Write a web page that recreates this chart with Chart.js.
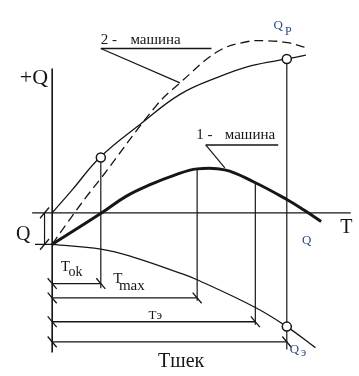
<!DOCTYPE html>
<html>
<head>
<meta charset="utf-8">
<script src="https://cdn.jsdelivr.net/npm/chart.js@4.4.1/dist/chart.umd.min.js"></script>
<style>
  body { margin: 0; background: #fff; }
  #wrap { width: 359px; height: 376px; position: relative; }
</style>
</head>
<body>
<div id="wrap"><canvas id="chart"></canvas></div>
<script>
// ============ DATA (T along x, Q along y) ============
const q0 = -33;                 // initial Q at T = 0

// 1 - машина (thick curve)
const curve1T = [0, 52, 77, 104, 127, 152, 181, 212, 246, 264, 282];
const curve1Q = [q0, 0, 17, 30, 39, 46, 45, 32, 14, 3, -9];

// 2 - машина, solid curve (starts at origin)
const curve2T = [0, 21, 50, 94, 134, 174, 209, 246, 266];
const curve2Q = [0, 24, 58, 94, 124, 142, 154, 161, 165];

// 2 - машина, dashed curve (starts at Q0)
const dashT = [0, 14, 36, 51, 109, 134, 174, 204, 226, 247, 266];
const dashQ = [q0, -13, 17, 36, 112, 136, 169, 179, 180, 178, 173];

// Qэ curve
const qeT = [0, 51, 84, 134, 152, 213, 246, 276];
const qeQ = [q0, -38, -46, -63, -70, -99, -119, -141];

// time marks: Tok, Tmax, Tэ, Тшек
const markT = [51, 152, 213, 246];
const markTopQ = [58, 46, 32, 161];      // where the drop lines start
const bracketQ = [-74, -89, -114, -135]; // dimension lines

const ink = "#161616";
const navy = "#2b4a80";

function pts(xs, ys) {
    return xs.map((x, i) => ({ x: x, y: ys[i] }));
}

function seg(a, b, extra) {
    return Object.assign({
        data: [a, b],
        showLine: true,
        pointRadius: 0,
        borderColor: ink,
        borderWidth: 1.2,
        tension: 0
    }, extra || {});
}

// ============ DATASETS ============
const datasets = [];

// circles on top
datasets.push({
    data: [
        { x: markT[0], y: markTopQ[0] },
        { x: markT[3], y: markTopQ[3] },
        { x: markT[3], y: qeQ[6] }
    ],
    pointStyle: "circle",
    pointRadius: 4.5,
    pointBackgroundColor: "#fff",
    pointBorderColor: ink,
    pointBorderWidth: 1.5,
    showLine: false
});

// slash ticks on dimension lines
const slashPts = [];
bracketQ.forEach((q, i) => {
    slashPts.push({ x: 0, y: q });
    slashPts.push({ x: markT[i], y: q });
});
datasets.push({
    data: slashPts,
    pointStyle: "line",
    pointRadius: 7,
    rotation: 50,
    borderColor: ink,
    borderWidth: 1.3,
    showLine: false
});
datasets.push({
    data: [{ x: -8, y: 0 }, { x: -8, y: q0 }],
    pointStyle: "line",
    pointRadius: 7,
    rotation: -50,
    borderColor: ink,
    borderWidth: 1.3,
    showLine: false
});

// curves
datasets.push({ data: pts(curve1T, curve1Q), showLine: true, pointRadius: 0, borderColor: ink, borderWidth: 3, tension: 0.4 });
datasets.push({ data: pts(curve2T, curve2Q), showLine: true, pointRadius: 0, borderColor: ink, borderWidth: 1.3, tension: 0.4 });
datasets.push({ data: pts(dashT, dashQ), showLine: true, pointRadius: 0, borderColor: ink, borderWidth: 1.3, borderDash: [9, 5], tension: 0.4 });
datasets.push({ data: pts(qeT, qeQ), showLine: true, pointRadius: 0, borderColor: ink, borderWidth: 1.3, tension: 0.4 });

// axes
datasets.push(seg({ x: 0, y: 151 }, { x: 0, y: -146 }, { borderWidth: 1.6 }));
datasets.push(seg({ x: -21, y: 0 }, { x: 320, y: 0 }, { borderWidth: 1.4 }));
datasets.push(seg({ x: -18, y: q0 }, { x: 0, y: q0 }));
datasets.push(seg({ x: -8, y: 0 }, { x: -8, y: q0 }));

// drop lines and dimension lines
const dropEnd = [-79, -92, -117, -143];
markT.forEach((t, i) => {
    datasets.push(seg({ x: t, y: markTopQ[i] }, { x: t, y: dropEnd[i] }));
    datasets.push(seg({ x: 0, y: bracketQ[i] }, { x: t, y: bracketQ[i] }, { borderWidth: 1.4 }));
});

// label leaders
datasets.push(seg({ x: 51, y: 172 }, { x: 167, y: 172 }, { borderWidth: 1.4 }));
datasets.push(seg({ x: 51, y: 172 }, { x: 134, y: 136 }));
datasets.push(seg({ x: 161, y: 71 }, { x: 237, y: 71 }, { borderWidth: 1.4 }));
datasets.push(seg({ x: 161, y: 71 }, { x: 181, y: 47 }));

// ============ TEXT ============
const serif = "'Liberation Serif', 'DejaVu Serif', serif";
const texts = [
    { text: "+Q", t: -34, q: 135, size: 22 },
    { text: "2 -", t: 51, q: 177, size: 15 },
    { text: "машина", t: 82, q: 177, size: 15 },
    { text: "1 -", t: 151, q: 77, size: 15 },
    { text: "машина", t: 181, q: 77, size: 15 },
    { text: "Q", t: -38, q: -28, size: 20 },
    { text: "T", t: 302, q: -21, size: 20 },
    { text: "Q", t: 262, q: -33, size: 13, color: navy },
    { text: "Q", t: 232, q: 192, size: 13, color: navy },
    { text: "P", t: 244, q: 186, size: 12, color: navy },
    { text: "Q", t: 249, q: -147, size: 13, color: navy },
    { text: "э", t: 261, q: -150, size: 12, color: navy },
    { text: "T", t: 9, q: -61, size: 15 },
    { text: "ok", t: 17, q: -66, size: 14 },
    { text: "T", t: 64, q: -73, size: 15 },
    { text: "max", t: 70, q: -81, size: 15 },
    { text: "Tэ", t: 101, q: -111, size: 13 },
    { text: "Тшек", t: 111, q: -161, size: 20 }
];

const textPlugin = {
    id: "texts",
    afterDatasetsDraw(chart) {
        const { ctx, scales } = chart;
        ctx.save();
        ctx.textAlign = "left";
        ctx.textBaseline = "alphabetic";
        texts.forEach(l => {
            ctx.font = l.size + "px " + serif;
            ctx.fillStyle = l.color || ink;
            ctx.fillText(l.text, scales.x.getPixelForValue(l.t), scales.y.getPixelForValue(l.q));
        });
        ctx.restore();
    }
};

// ============ CHART ============
new Chart(document.getElementById("chart"), {
    type: "scatter",
    data: { datasets },
    options: {
        responsive: true,
        maintainAspectRatio: false,
        animation: false,
        layout: { padding: 0 },
        plugins: { legend: { display: false }, tooltip: { enabled: false } },
        scales: {
            x: { type: "linear", min: -46, max: 313, display: false },
            y: { type: "linear", min: -162, max: 214, display: false }
        }
    },
    plugins: [textPlugin]
});
</script>
</body>
</html>
